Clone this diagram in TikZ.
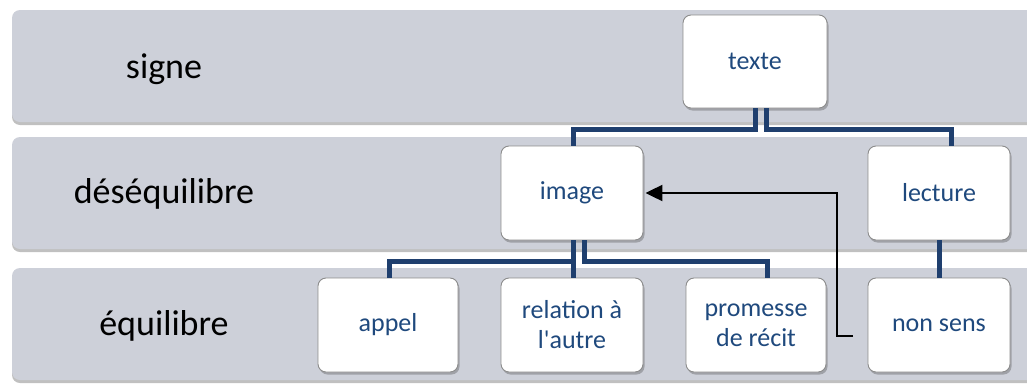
\documentclass[tikz,border=0pt]{standalone}
\usepackage{fontspec}
\setmainfont{Carlito}[Ligatures=TeXOff]
\usetikzlibrary{shadows,arrows.meta}
\definecolor{bandc}{HTML}{CDD0D9}
\definecolor{connc}{HTML}{1F3F6E}
\definecolor{txtc}{HTML}{1F497D}
\begin{document}
\begin{tikzpicture}[x=1pt,y=-1pt,
  bandbox/.style={fill=bandc, rounded corners=8pt,
    drop shadow={shadow xshift=0pt, shadow yshift=-3pt, opacity=0.35, fill=black!70}},
  box/.style={draw=black!45, line width=0.9pt, fill=white, rounded corners=8pt,
    minimum width=142pt, minimum height=94pt, text=txtc, align=center,
    font=\fontsize{26}{30}\selectfont,
    drop shadow={shadow xshift=1.5pt, shadow yshift=-2.5pt, opacity=0.35, fill=black!70}},
  lbl/.style={font=\fontsize{36}{40}\selectfont, text=black, anchor=base},
  conn/.style={draw=connc, line width=5pt},
  arr/.style={draw=black, line width=2.2pt, -{Triangle[length=17pt,width=16pt]}}]
\useasboundingbox (0,0) rectangle (1027,383);
\fill[white] (0,0) rectangle (1027,383);
\clip (0,0) rectangle (1027,383);
% bands
\fill[bandbox] (12,10) rectangle (1045,122);
\fill[bandbox] (12,137) rectangle (1045,249);
\fill[bandbox] (12,268) rectangle (1045,380);
% labels
\node[lbl] (lsigne) at (164,78) {signe};
\node[lbl] (ldes) at (164,203) {déséquilibre};
\node[lbl] (lequ) at (164,335) {équilibre};
% boxes
\node[box, minimum width=144pt, minimum height=93pt] (texte) at (755,61.5) {texte};
\node[box] (image) at (572,193) {image};
\node[box] (lecture) at (939,193) {lecture};
\node[box, minimum width=140pt] (appel) at (388,325) {appel};
\node[box] (relation) at (572,325) {relation à\\l'autre};
\node[box, minimum width=140pt] (promesse) at (756,325) {promesse\\de récit};
\node[box] (nonsens) at (939,325) {non sens};
% connectors
\draw[conn] (texte.south) -- ++(0,21) -| ([xshift=1pt]image.north);
\draw[conn] ([xshift=11pt]texte.south) -- ++(0,21) -| ([xshift=12pt]lecture.north);
\draw[conn] ([xshift=1pt]image.south) -- ++(0,21) -| ([xshift=1pt]appel.north);
\draw[conn] ([xshift=1pt]image.south) -- ([xshift=1pt]relation.north);
\draw[conn] ([xshift=12pt]image.south) -- ++(0,21) -| ([xshift=11pt]promesse.north);
\draw[conn] (lecture.south) -- (nonsens.north);
% arrow
\coordinate (a0) at (853,336);
\draw[arr] (a0) -- ++(-16,0) |- ([xshift=2pt]image.east);
\end{tikzpicture}
\end{document}
